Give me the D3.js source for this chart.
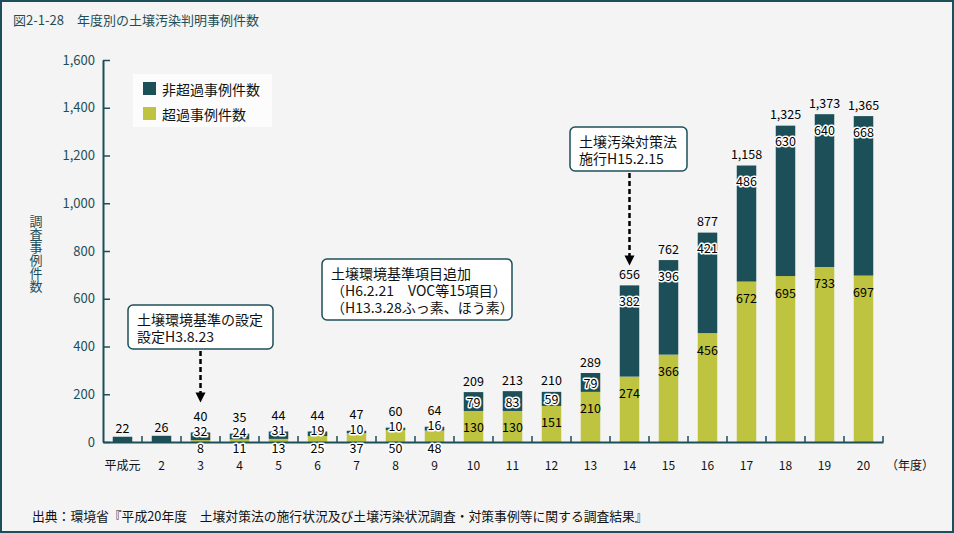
<!DOCTYPE html>
<html><head><meta charset="utf-8">
<script src="https://cdn.jsdelivr.net/npm/d3@7"></script>
<style>
body{margin:0;background:#fff}
svg{display:block}
text{font-family:"Noto Sans CJK JP","Noto Sans",sans-serif}
</style>
</head><body>
<svg id="chart" width="954" height="533"></svg>
<script>
const years = ["平成元","2","3","4","5","6","7","8","9","10","11","12","13","14","15","16","17","18","19","20"];
const nonExceed = [22,26,32,24,31,19,10,10,16,79,83,59,79,382,396,421,486,630,640,668];
const exceed = [0,0,8,11,13,25,37,50,48,130,130,151,210,274,366,456,672,695,733,697];
const totals = [22,26,40,35,44,44,47,60,64,209,213,210,289,656,762,877,1158,1325,1373,1365];
const yTicks = [0,200,400,600,800,1000,1200,1400,1600];
const seriesNames = ["非超過事例件数","超過事例件数"];
const titleText = "図2-1-28　年度別の土壌汚染判明事例件数";
const yTitle = "調査事例件数";
const xUnit = "（年度）";
const sourceText = "出典：環境省『平成20年度　土壌対策法の施行状況及び土壌汚染状況調査・対策事例等に関する調査結果』";
const notes = [
  {year:"3", lines:["土壌環境基準の設定","設定H3.8.23"]},
  {year:"10", lines:["土壌環境基準項目追加","（H6.2.21　VOC等15項目）","（H13.3.28ふっ素、ほう素）"]},
  {year:"14", lines:["土壌汚染対策法","施行H15.2.15"]}
];

const dark = "#1d4f59", yellow = "#bfc440", teal = "#1d4f59";
const svg = d3.select("#chart");
svg.append("rect").attr("x",1).attr("y",1).attr("width",952).attr("height",531)
  .attr("fill","#f4f4f4").attr("stroke",teal).attr("stroke-width",2);

svg.append("text").attr("x",13).attr("y",25).attr("fill",teal).attr("font-size",13)
  .text(titleText);

const x = d3.scaleBand().domain(years).range([103,883]).paddingInner(0.5).paddingOuter(0.25);
const y = d3.scaleLinear().domain([0,1600]).range([442,60]);

// y axis
const yAxis = d3.axisLeft(y).tickValues(yTicks).tickFormat(d3.format(",")).tickSizeInner(-7).tickSizeOuter(0).tickPadding(8);
const gy = svg.append("g").attr("transform","translate(103,0)").call(yAxis);
gy.select(".domain").attr("stroke",teal).attr("stroke-width",2);
gy.selectAll(".tick line").attr("stroke",teal).attr("stroke-width",1.5);
gy.selectAll(".tick text").attr("fill",teal).attr("font-size",13).attr("font-family",'"Noto Sans CJK JP",sans-serif');

svg.append("text").attr("x",36).attr("y",y(800)-36).attr("fill",teal).attr("font-size",13)
  .style("writing-mode","vertical-rl").attr("text-anchor","start").text(yTitle);

// bars
const rows = years.map((yr,i)=>({yr, ne:nonExceed[i], ex:exceed[i], tot:totals[i], i}));
const g = svg.append("g");
g.selectAll("rect.ex").data(rows.filter(d=>d.ex>0)).join("rect")
  .attr("x",d=>x(d.yr)).attr("width",x.bandwidth())
  .attr("y",d=>y(d.ex)).attr("height",d=>y(0)-y(d.ex)).attr("fill",yellow);
g.selectAll("rect.ne").data(rows).join("rect")
  .attr("x",d=>x(d.yr)).attr("width",x.bandwidth())
  .attr("y",d=>y(d.ex+d.ne)).attr("height",d=>y(d.ex)-y(d.ex+d.ne)).attr("fill",dark);

// x axis
const xAxis = d3.axisBottom(x).tickSize(0).tickPadding(19);
const gx = svg.append("g").attr("transform","translate(0,442)").call(xAxis);
gx.select(".domain").attr("stroke",teal).attr("stroke-width",2);
gx.selectAll(".tick text").attr("fill","#111").attr("font-size",12).attr("font-family",'"Noto Sans CJK JP",sans-serif');
const bounds = d3.range(1, years.length+1).map(k=>x.range()[0]+k*x.step());
svg.append("g").selectAll("line").data(bounds).join("line")
  .attr("x1",d=>d).attr("x2",d=>d).attr("y1",442).attr("y2",436)
  .attr("stroke",teal).attr("stroke-width",1.5);
svg.append("text").attr("x",886).attr("y",470).attr("font-size",12).attr("fill","#111").text(xUnit);

// labels
const fmt = d3.format(",");
const lab = svg.append("g").attr("font-size",12.5).attr("text-anchor","middle").attr("dominant-baseline","central");
function halo(sel){ sel.attr("stroke","#fff").attr("stroke-width",3).attr("paint-order","stroke").attr("stroke-linejoin","round"); }
rows.forEach(d=>{
  const cx = x(d.yr)+x.bandwidth()/2;
  const top = y(d.tot);
  if (d.i < 2) {
    lab.append("text").attr("x",cx).attr("y",top-9).text(fmt(d.tot));
  } else if (d.i < 9) {
    lab.append("text").attr("x",cx).attr("y",top-17).text(fmt(d.tot));
    lab.append("text").attr("x",cx).attr("y",top-2).text(fmt(d.ne)).call(halo);
    lab.append("text").attr("x",cx).attr("y",y(0)+5).text(fmt(d.ex)).call(halo);
  } else {
    lab.append("text").attr("x",cx).attr("y",top-12).text(fmt(d.tot));
    const hNe = y(d.ex)-top;
    lab.append("text").attr("x",cx).attr("y",top+Math.min(15,hNe/2)).text(fmt(d.ne)).call(halo);
    const exTop = y(d.ex), hEx = y(0)-exTop;
    lab.append("text").attr("x",cx).attr("y",exTop+Math.min(15,hEx/2)+1).text(fmt(d.ex));
  }
});

// legend
const lg = svg.append("g");
lg.append("rect").attr("x",133).attr("y",74).attr("width",139).attr("height",53).attr("fill","#fcfcfc");
[dark,yellow].forEach((c,k)=>{
  lg.append("rect").attr("x",143).attr("y",82+k*25).attr("width",13).attr("height",13).attr("fill",c);
  lg.append("text").attr("x",162).attr("y",89+k*25).attr("dominant-baseline","central").attr("font-size",14).attr("fill","#111").text(seriesNames[k]);
});

// annotations
const boxes = [
  {x0:128, y0:305, w:145, tipOff:30},
  {x0:322, y0:259, w:190, tipOff:null},
  {x0:570, y0:127, w:117, tipOff:20}
];
notes.forEach((n,k)=>{
  const b = boxes[k];
  const h = n.lines.length*17+10;
  const ag = svg.append("g");
  ag.append("rect").attr("x",b.x0).attr("y",b.y0).attr("width",b.w).attr("height",h).attr("rx",5)
    .attr("fill","#fff").attr("stroke",teal).attr("stroke-width",1.5);
  n.lines.forEach((t,j)=>{
    ag.append("text").attr("x",b.x0+9).attr("y",b.y0+14+j*17).attr("dominant-baseline","central")
      .attr("font-size",14).attr("fill","#111").text(t);
  });
  if (b.tipOff !== null) {
    const idx = years.indexOf(n.year);
    const cx = x(n.year)+x.bandwidth()/2;
    const tip = y(totals[idx]) - b.tipOff;
    ag.append("line").attr("x1",cx).attr("x2",cx).attr("y1",b.y0+h+2).attr("y2",tip-8)
      .attr("stroke","#000").attr("stroke-width",2.5).attr("stroke-dasharray","5,3");
    ag.append("path").attr("d",`M${cx-5},${tip-10}L${cx+5},${tip-10}L${cx},${tip}Z`).attr("fill","#000");
  }
});

svg.append("text").attr("x",32).attr("y",521).attr("font-size",12.8).attr("fill","#111").text(sourceText);
</script>
</body></html>
